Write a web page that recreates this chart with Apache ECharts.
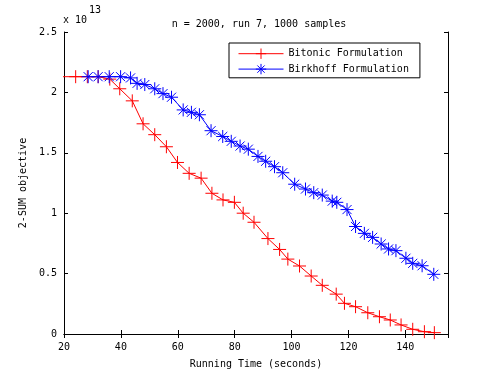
<!DOCTYPE html>
<html>
<head>
<meta charset="utf-8">
<script src="https://cdn.jsdelivr.net/npm/echarts@6/dist/echarts.min.js"></script>
<style>
  html, body { margin: 0; padding: 0; background: #fff; }
  #chart { width: 495px; height: 375px; }
</style>
</head>
<body>
<div id="chart"></div>
<script>
// objective values are in units of 1e13 (see the "x 10^13" on the axis)
const bitonicTime = [17.9, 24.1, 28.2, 32.0, 36.1, 39.6, 44.0, 47.8, 51.9, 56.0, 59.9, 64.0, 68.2, 72.0, 75.9, 79.9, 83.0, 86.8,
  91.7, 95.8, 98.7, 102.8, 106.9, 110.8, 115.7, 118.6, 122.5, 126.8, 130.9, 134.7, 138.5, 142.6, 146.7, 150.2];
const bitonicObjective = [2.13, 2.13, 2.13, 2.13, 2.11, 2.03, 1.93, 1.74, 1.65, 1.55, 1.42, 1.33, 1.29, 1.165, 1.11, 1.09, 1.0, 0.925,
  0.79, 0.70, 0.62, 0.563, 0.48, 0.403, 0.33, 0.254, 0.226, 0.176, 0.143, 0.116, 0.075, 0.039, 0.019, 0.011];

const birkhoffTime = [28.5, 32.0, 35.9, 39.9, 43.4, 45.7, 48.4, 51.9, 54.8, 57.8, 61.9, 64.8, 67.6, 71.7, 75.8, 78.8, 81.9, 84.8,
  88.2, 90.9, 94.0, 96.9, 101.1, 104.9, 107.8, 110.8, 114.3, 115.9, 119.5, 122.5, 125.6, 128.5, 131.5, 134.1, 136.7,
  140.2, 142.6, 145.9, 150.0];
const birkhoffObjective = [2.13, 2.13, 2.13, 2.13, 2.12, 2.075, 2.065, 2.03, 1.99, 1.96, 1.855, 1.835, 1.815, 1.683, 1.635, 1.595, 1.556, 1.53,
  1.47, 1.43, 1.385, 1.335, 1.24, 1.20, 1.17, 1.15, 1.10, 1.09, 1.03, 0.89, 0.833, 0.80, 0.745, 0.704, 0.69,
  0.627, 0.585, 0.565, 0.494];

const seriesNames = ['Bitonic Formulation', 'Birkhoff Formulation'];

const font = 'DejaVu Sans Mono';
const plusPath = 'path://M0,6L12,6M6,0L6,12';
const starPath = 'path://M0,6L12,6M6,0L6,12M1.8,1.8L10.2,10.2M1.8,10.2L10.2,1.8';

function toPoints(xs, ys) {
  return xs.map((x, i) => [x, ys[i]]);
}

// first red point lies left of the axis and has no visible marker
let bitonicData = toPoints(bitonicTime, bitonicObjective);
bitonicData[0] = { value: bitonicData[0], symbol: 'none' };

let myChart = echarts.init(document.getElementById('chart'));

const tickStyle = { inside: true, length: 4, lineStyle: { color: '#000', width: 1 } };
const lineStyle = { show: true, lineStyle: { color: '#000', width: 1 } };

let option = {
  animation: false,
  backgroundColor: '#fff',
  textStyle: { fontFamily: font },
  title: {
    text: 'n = 2000, run 7, 1000 samples',
    left: 254,
    textAlign: 'center',
    top: 14,
    textStyle: { fontFamily: font, fontSize: 10, fontWeight: 'normal', color: '#000' }
  },
  graphic: [
    { type: 'text', left: 63, top: 15, style: { text: 'x 10', font: '10px ' + font, fill: '#000' } },
    { type: 'text', left: 89, top: 5, style: { text: '13', font: '10px ' + font, fill: '#000' } }
  ],
  legend: {
    data: seriesNames,
    orient: 'vertical',
    left: 229,
    top: 43,
    padding: [5, 11, 3, 9],
    itemGap: 4,
    itemWidth: 45,
    itemHeight: 13,
    backgroundColor: '#fff',
    borderColor: '#000',
    borderWidth: 1,
    borderRadius: 0,
    lineStyle: { width: 1 },
    itemStyle: { borderWidth: 1 },
    textStyle: { fontFamily: font, fontSize: 10, color: '#000' }
  },
  grid: { left: 64, right: 47, top: 32, bottom: 41 },
  xAxis: [
    {
      type: 'value',
      min: 20,
      max: 155,
      interval: 20,
      name: 'Running Time (seconds)',
      nameLocation: 'middle',
      nameGap: 25,
      nameTextStyle: { fontFamily: font, fontSize: 10, color: '#000' },
      axisLine: lineStyle,
      axisTick: tickStyle,
      splitLine: { show: false },
      axisLabel: { color: '#000', fontFamily: font, fontSize: 10, margin: 8, showMaxLabel: false }
    },
    {
      type: 'value',
      position: 'top',
      min: 20,
      max: 155,
      interval: 20,
      axisLine: lineStyle,
      axisTick: tickStyle,
      splitLine: { show: false },
      axisLabel: { show: false }
    }
  ],
  yAxis: [
    {
      type: 'value',
      min: 0,
      max: 2.5,
      interval: 0.5,
      name: '2-SUM objective',
      nameLocation: 'middle',
      nameGap: 33,
      nameTextStyle: { fontFamily: font, fontSize: 10, color: '#000' },
      axisLine: lineStyle,
      axisTick: tickStyle,
      splitLine: { show: false },
      axisLabel: { color: '#000', fontFamily: font, fontSize: 10, margin: 7 }
    },
    {
      type: 'value',
      position: 'right',
      min: 0,
      max: 2.5,
      interval: 0.5,
      axisLine: lineStyle,
      axisTick: tickStyle,
      splitLine: { show: false },
      axisLabel: { show: false }
    }
  ],
  series: [
    {
      name: seriesNames[0],
      type: 'line',
      clip: false,
      data: bitonicData,
      symbol: plusPath,
      symbolSize: 13,
      showAllSymbol: true,
      lineStyle: { color: '#ff0000', width: 1 },
      itemStyle: { color: '#ff0000', borderColor: '#ff0000', borderWidth: 1 }
    },
    {
      name: seriesNames[1],
      type: 'line',
      data: toPoints(birkhoffTime, birkhoffObjective),
      symbol: starPath,
      symbolSize: 13,
      showAllSymbol: true,
      lineStyle: { color: '#0000ff', width: 1 },
      itemStyle: { color: '#0000ff', borderColor: '#0000ff', borderWidth: 1 }
    }
  ]
};

myChart.setOption(option);
</script>
</body>
</html>
